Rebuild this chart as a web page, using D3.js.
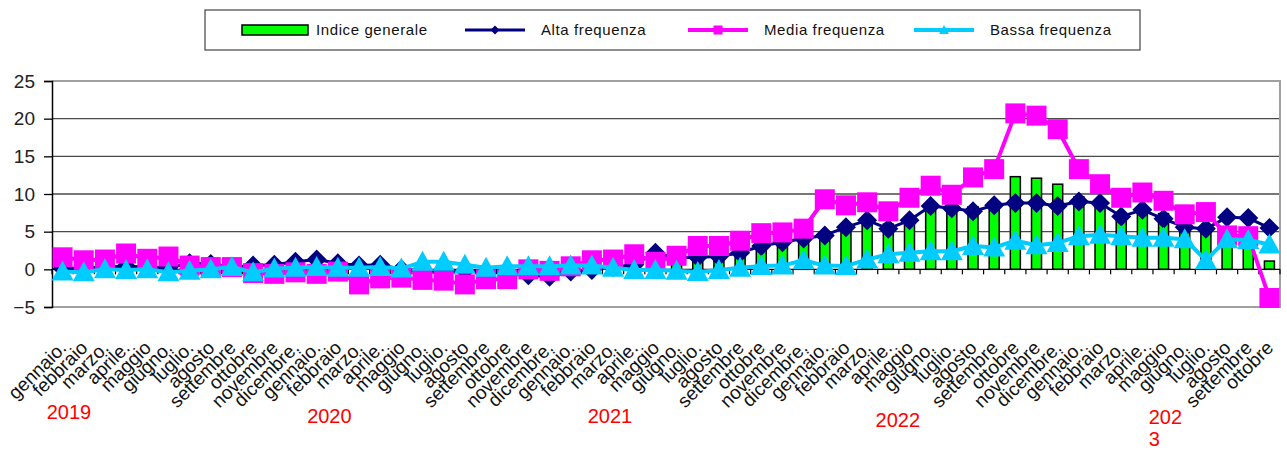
<!DOCTYPE html>
<html>
<head>
<meta charset="utf-8">
<script src="https://cdn.jsdelivr.net/npm/d3@7"></script>
<style>
  body { margin: 0; background: #fff; }
  text { font-family: 'Liberation Sans', Arial, sans-serif; }
</style>
</head>
<body>
<div id="chart"></div>
<script>
// data
const monthNames = ['gennaio.', 'febbraio', 'marzo.', 'aprile.', 'maggio', 'giugno.',
  'luglio.', 'agosto', 'settembre', 'ottobre', 'novembre', 'dicembre.'];
const years = ['2019', '2020', '2021', '2022', '2023'];
const monthsLastYear = 10;
const categories = years.flatMap((y, k) =>
  monthNames.slice(0, k === years.length - 1 ? monthsLastYear : 12));

// where the red year captions sit, in category units
const yearPos = [-0.25, 12.05, 25.3, 38.9, 51.8];

const indiceGenerale = [
  1.1, 1.0, 1.0, 1.1, 0.9, 0.8, 0.5, 0.5, 0.3, 0.2, 0.3, 0.5,
  0.6, 0.3, 0.1, 0.0, -0.2, -0.2, -0.4, -0.5, -0.6, -0.3, -0.2, -0.2,
  0.4, 0.6, 0.8, 1.1, 1.2, 1.2, 1.8, 2.0, 2.5, 2.9, 3.6, 3.8,
  4.8, 5.6, 6.4, 6.0, 6.8, 7.9, 7.9, 8.3, 8.8, 12.3, 12.1, 11.3,
  9.6, 9.0, 7.5, 8.1, 7.4, 6.2, 5.6, 5.0, 5.0, 1.1
];
const altaFrequenza = [
  0.1, 0.2, 0.3, 0.4, 0.3, 0.2, 0.8, 0.7, 0.3, 0.5, 0.6, 1.0,
  1.3, 0.8, 0.5, 0.6, 0.0, -0.2, -0.3, -0.2, -0.3, -0.4, -0.8, -1.0,
  -0.3, -0.1, 0.3, 0.6, 2.2, 1.5, 1.6, 1.7, 2.2, 3.1, 3.6, 4.1,
  4.5, 5.6, 6.5, 5.4, 6.5, 8.4, 8.1, 7.7, 8.5, 8.8, 8.8, 8.4,
  9.0, 8.8, 7.0, 7.9, 6.7, 5.6, 5.4, 6.9, 6.8, 5.5
];
const mediaFrequenza = [
  1.6, 1.2, 1.3, 2.1, 1.4, 1.7, 0.5, 0.3, 0.3, -0.5, -0.6, -0.4,
  -0.6, -0.3, -2.0, -1.2, -1.1, -1.4, -1.5, -2.0, -1.3, -1.3, 0.0, -0.2,
  0.4, 1.2, 1.3, 2.0, 1.0, 1.8, 3.1, 3.1, 3.8, 4.8, 4.9, 5.4,
  9.3, 8.5, 8.9, 7.7, 9.5, 11.1, 9.9, 12.2, 13.3, 20.7, 20.4, 18.6,
  13.3, 11.3, 9.5, 10.2, 9.1, 7.3, 7.6, 4.5, 4.4, -3.8
];
const bassaFrequenza = [
  -0.3, -0.4, 0.0, -0.1, 0.0, -0.4, -0.2, 0.0, 0.3, -0.4, 0.1, 0.2,
  0.3, 0.2, 0.2, 0.3, 0.1, 1.0, 1.0, 0.6, 0.2, 0.4, 0.4, 0.4,
  0.5, 0.5, 0.2, -0.1, -0.1, -0.2, -0.35, -0.1, 0.2, 0.45, 0.5, 1.2,
  0.5, 0.45, 1.3, 2.0, 2.2, 2.4, 2.4, 3.1, 2.9, 3.8, 3.2, 3.5,
  4.4, 4.6, 4.4, 4.2, 4.2, 4.0, 1.2, 4.0, 3.9, 3.3
];
const yTicks = [-5, 0, 5, 10, 15, 20, 25];

// layout
const width = 1287, height = 450;
const plot = { left: 52, right: 1280, top: 81, bottom: 307 };

const svg = d3.select('#chart')
  .append('svg')
  .attr('width', width)
  .attr('height', height);

svg.append('rect').attr('width', width).attr('height', height).attr('fill', '#fff');

const idx = d3.range(categories.length);
const x = d3.scaleBand().domain(idx).range([plot.left, plot.right]);
const xCat = d3.scaleLinear().domain([0, categories.length]).range([plot.left, plot.right]);
const y = d3.scaleLinear().domain([-5, 25]).range([plot.bottom, plot.top]);
const cx = i => x(i) + x.bandwidth() / 2;

// gridlines
svg.append('g')
  .selectAll('line')
  .data(yTicks.filter(t => t !== -5 && t !== 25 && t !== 0))
  .join('line')
  .attr('x1', plot.left).attr('x2', plot.right)
  .attr('y1', d => y(d)).attr('y2', d => y(d))
  .attr('stroke', '#4a4a4a').attr('stroke-width', 1.3);

// plot frame (top, right, bottom)
svg.append('path')
  .attr('d', `M${plot.left},${y(25)}H${plot.right}V${y(-5)}H${plot.left}`)
  .attr('fill', 'none').attr('stroke', '#a0a0a0').attr('stroke-width', 2);

// y axis
const yAxis = d3.axisLeft(y).tickValues(yTicks).tickSize(8).tickPadding(9);
svg.append('g')
  .attr('transform', `translate(${plot.left},0)`)
  .call(yAxis)
  .call(g => g.select('.domain').attr('stroke', '#000').attr('stroke-width', 1.5))
  .call(g => g.selectAll('.tick line').attr('stroke', '#000').attr('stroke-width', 1.3))
  .call(g => g.selectAll('.tick text')
    .attr('font-size', 19).attr('fill', '#222')
    .attr('font-family', "'Liberation Sans', Arial, sans-serif"));

// bars
svg.append('g')
  .selectAll('rect')
  .data(indiceGenerale)
  .join('rect')
  .attr('x', (d, i) => cx(i) - 5)
  .attr('width', 10)
  .attr('y', d => y(Math.max(0, d)))
  .attr('height', d => Math.abs(y(d) - y(0)))
  .attr('fill', '#00ff00')
  .attr('stroke', '#000')
  .attr('stroke-width', 1.5);

// zero line + category ticks
svg.append('line')
  .attr('x1', plot.left).attr('x2', plot.right)
  .attr('y1', y(0)).attr('y2', y(0))
  .attr('stroke', '#000').attr('stroke-width', 1.4);
svg.append('g')
  .selectAll('line')
  .data(d3.range(categories.length + 1))
  .join('line')
  .attr('x1', d => xCat(d)).attr('x2', d => xCat(d))
  .attr('y1', y(0)).attr('y2', y(0) + 5)
  .attr('stroke', '#000').attr('stroke-width', 1.2);

// series
const diamond = 'M0,-10L10,0L0,10L-10,0Z';
const square = 'M-10,-10H10V10H-10Z';
const triangle = 'M0,-11L11,9L-11,9Z';

const series = [
  { values: altaFrequenza, color: '#000080', lw: 3, marker: diamond },
  { values: mediaFrequenza, color: '#ff00ff', lw: 4, marker: square },
  { values: bassaFrequenza, color: '#00ccff', lw: 4, marker: triangle }
];

const line = d3.line().x((d, i) => cx(i)).y(d => y(d));

series.forEach(s => {
  const g = svg.append('g');
  g.append('path')
    .datum(s.values)
    .attr('d', line)
    .attr('fill', 'none')
    .attr('stroke', s.color)
    .attr('stroke-width', s.lw)
    .attr('stroke-linejoin', 'round');
  g.selectAll('path.m')
    .data(s.values)
    .join('path')
    .attr('class', 'm')
    .attr('d', s.marker)
    .attr('transform', (d, i) => `translate(${cx(i)},${y(d)})`)
    .attr('fill', s.color);
});

// category labels
svg.append('g')
  .selectAll('text')
  .data(categories)
  .join('text')
  .attr('transform', (d, i) => `translate(${cx(i) + 5},${plot.bottom + 42}) rotate(-45)`)
  .attr('text-anchor', 'end')
  .attr('font-size', 19)
  .attr('fill', '#111')
  .text(d => d);

// year captions
const yearText = svg.append('g')
  .selectAll('text')
  .data(years)
  .join('text')
  .attr('x', (d, i) => xCat(yearPos[i]))
  .attr('y', (d, i) => [419, 423, 423, 427, 424][i])
  .attr('font-size', 20)
  .attr('fill', '#ff0000');
yearText.each(function (d, i) {
  const t = d3.select(this);
  if (i === years.length - 1) {
    t.append('tspan').text(d.slice(0, 3));
    t.append('tspan').attr('x', xCat(yearPos[i])).attr('dy', 22).text(d.slice(3));
  } else {
    t.text(d);
  }
});

// legend
const legend = svg.append('g');
legend.append('rect')
  .attr('x', 205).attr('y', 10).attr('width', 935).attr('height', 40)
  .attr('fill', '#fff').attr('stroke', '#444').attr('stroke-width', 1.2);

const legendItems = [
  { label: 'Indice generale', type: 'bar', x0: 242 },
  { label: 'Alta frequenza', type: 'line', x0: 465, s: series[0] },
  { label: 'Media frequenza', type: 'line', x0: 688, s: series[1] },
  { label: 'Bassa frequenza', type: 'line', x0: 914, s: series[2] }
];

legendItems.forEach(it => {
  const g = legend.append('g').attr('transform', `translate(${it.x0},30)`);
  if (it.type === 'bar') {
    g.append('rect').attr('x', 0).attr('y', -5).attr('width', 66).attr('height', 10)
      .attr('fill', '#00ff00').attr('stroke', '#000').attr('stroke-width', 1.5);
  } else {
    g.append('line').attr('x1', 0).attr('x2', 60).attr('y1', 0).attr('y2', 0)
      .attr('stroke', it.s.color).attr('stroke-width', it.s.lw);
    g.append('path').attr('d', it.s.marker)
      .attr('transform', 'translate(30,0) scale(0.45)')
      .attr('fill', it.s.color);
  }
  g.append('text')
    .attr('x', it.type === 'bar' ? 74 : 76)
    .attr('y', 0)
    .attr('dy', '0.35em')
    .attr('font-size', 15)
    .attr('letter-spacing', 0.6)
    .attr('fill', '#111')
    .text(it.label);
});
</script>
</body>
</html>
